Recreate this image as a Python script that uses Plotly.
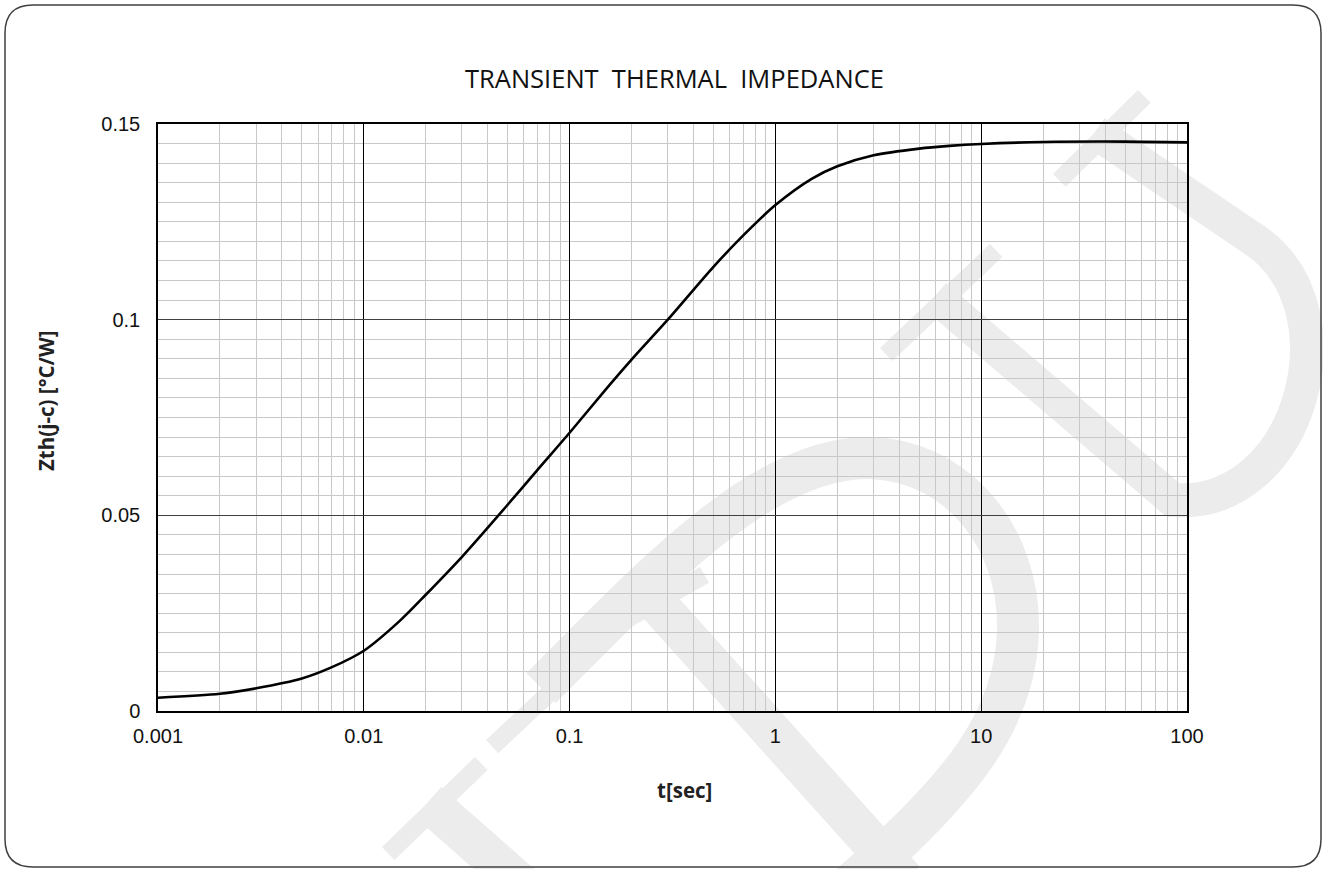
import plotly.graph_objects as go

# ---- data ----
t_sec = [0.001, 0.002, 0.003, 0.005, 0.007, 0.01, 0.015, 0.02, 0.03, 0.05, 0.07,
         0.1, 0.15, 0.2, 0.3, 0.5, 0.7, 1, 1.5, 2, 3, 5, 7, 10, 20, 50, 100]
zth = [0.0034, 0.0044, 0.0058, 0.0083, 0.0112, 0.0154, 0.0231, 0.0297, 0.0394, 0.0527, 0.0617,
       0.0711, 0.0822, 0.0898, 0.1000, 0.1135, 0.1216, 0.1293, 0.1360, 0.1392, 0.1420, 0.1437, 0.1444,
       0.1449, 0.1454, 0.1455, 0.1453]
x_tickvals = [0.001, 0.01, 0.1, 1, 10, 100]
x_ticktext = ["0.001", "0.01", "0.1", "1", "10", "100"]
y_tickvals = [0, 0.05, 0.1, 0.15]
y_ticktext = ["0", "0.05", "0.1", "0.15"]

W, H = 1323, 869
L, R, T, B = 158, 1187, 124, 711


def px(x):
    return (x - L) / (R - L)


def py(y):
    return (B - y) / (B - T)


def path(cmds):
    out = []
    for c, pts in cmds:
        s = " ".join(f"{px(x):.5f},{py(y):.5f}" for x, y in pts)
        out.append(f"{c} {s}")
    return " ".join(out)


fig = go.Figure()
fig.add_trace(go.Scatter(
    x=t_sec, y=zth, mode="lines",
    line=dict(color="black", width=2.6, shape="spline", smoothing=0.8),
    showlegend=False, hoverinfo="skip",
))

shapes = []
WM = "#ececec"
# watermark strokes (decorative)
wm_strokes = [
    ([("M", [(935, 296)]), ("L", [(1173, 500)]),
      ("C", [(1300, 510), (1355, 310), (1256, 241)]), ("L", [(1095, 132)])], 34),
    ([("M", [(541, 688)]), ("C", [(640, 590), (760, 455), (870, 458)]),
      ("C", [(960, 461), (1020, 540), (1018, 630)]),
      ("C", [(1016, 720), (960, 790), (850, 885)])], 42),
    ([("M", [(652, 598)]), ("L", [(905, 880)])], 40),
    ([("M", [(428, 802)]), ("L", [(545, 905)])], 40),
]
for cmds, w in wm_strokes:
    shapes.append(dict(type="path", xref="paper", yref="paper", path=path(cmds),
                       line=dict(color=WM, width=w), layer="below"))
# serifs
serifs = [((880, 348), (990, 244)), ((1053, 174), (1138, 90)),
          ((486, 740), (596, 637)), ((607, 620), (700, 567)), ((382, 847), (475, 757))]
for (x0, y0), (x1, y1) in serifs:
    dx, dy = (x1 - x0), (y1 - y0)
    n = (dx * dx + dy * dy) ** 0.5
    ox, oy = abs(-dy / n * 9), abs(dx / n * 9)
    shapes.append(dict(type="path", xref="paper", yref="paper",
                       path=path([("M", [(x0 + ox, y0 + oy)]), ("L", [(x1 + ox, y1 + oy)])]),
                       line=dict(color=WM, width=18), layer="below"))

# rounded outer border
bl, bt, br, bb, rr = 5, 5, 1321, 867, 28
border = [("M", [(bl + rr, bt)]), ("L", [(br - rr, bt)]), ("Q", [(br, bt), (br, bt + rr)]),
          ("L", [(br, bb - rr)]), ("Q", [(br, bb), (br - rr, bb)]),
          ("L", [(bl + rr, bb)]), ("Q", [(bl, bb), (bl, bb - rr)]),
          ("L", [(bl, bt + rr)]), ("Q", [(bl, bt), (bl + rr, bt)])]
shapes.append(dict(type="path", xref="paper", yref="paper", path=path(border) + " Z",
                   line=dict(color="#404040", width=1.5), layer="above"))

annotations = [
    dict(text="TRANSIENT\u00a0 THERMAL\u00a0 IMPEDANCE", xref="paper", yref="paper",
         x=px(674), y=py(78), showarrow=False, xanchor="center", yanchor="middle",
         font=dict(family="Open Sans", size=25.5, color="#111111")),
    dict(text="<b>t[sec]</b>", xref="paper", yref="paper",
         x=px(684), y=py(790), showarrow=False, xanchor="center", yanchor="middle",
         font=dict(family="Open Sans", size=20.5, color="#222222")),
    dict(text="<b>Zth(j-c) [°C/W]</b>", xref="paper", yref="paper",
         x=px(46), y=py(401), showarrow=False, xanchor="center", yanchor="middle",
         textangle=-90, font=dict(family="Open Sans", size=20.5, color="#222222")),
]

fig.update_layout(
    width=W, height=H,
    margin=dict(l=L, r=W - R, t=T, b=H - B, pad=0),
    paper_bgcolor="white", plot_bgcolor="rgba(0,0,0,0)",
    shapes=shapes, annotations=annotations,
    font=dict(family="Liberation Sans, Arial", size=20, color="#111111"),
)
fig.update_xaxes(
    type="log", range=[-3, 2],
    tickmode="array", tickvals=x_tickvals, ticktext=x_ticktext,
    showgrid=True, gridcolor="#000000", gridwidth=1,
    minor=dict(showgrid=True, dtick="D1", gridcolor="#c8c8c8", gridwidth=1),
    showline=True, linecolor="black", linewidth=1.5, mirror=True,
    zeroline=False, ticks="", ticklabelstandoff=6,
    tickfont=dict(family="Liberation Sans, Arial", size=20, color="#111111"),
)
fig.update_yaxes(
    range=[0, 0.15],
    tickmode="array", tickvals=y_tickvals, ticktext=y_ticktext,
    showgrid=True, gridcolor="#404040", gridwidth=1,
    minor=dict(showgrid=True, dtick=0.005, tick0=0, gridcolor="#c8c8c8", gridwidth=1),
    showline=True, linecolor="black", linewidth=1.5, mirror=True,
    zeroline=False, ticks="", ticklabelstandoff=12,
    tickfont=dict(family="Liberation Sans, Arial", size=20, color="#111111"),
)

fig.write_html("out.html", config={"displayModeBar": False},
               post_script="document.body.style.margin='0px';")
